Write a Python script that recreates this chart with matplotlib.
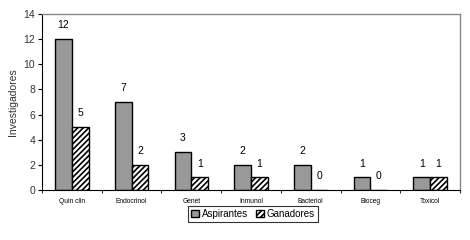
import numpy as np
import matplotlib.pyplot as plt

categorias = ['Quin clin', 'Endocrinol', 'Genet', 'Inmunol', 'Bacteriol', 'Bioceg', 'Toxicol']
aspirantes = [12, 7, 3, 2, 2, 1, 1]
ganadores = [5, 2, 1, 1, 0, 0, 1]

plt.rcParams['font.family'] = ['Liberation Sans', 'DejaVu Sans']
plt.rcParams['hatch.linewidth'] = 1.2

fig = plt.figure(figsize=(4.7, 2.4), dpi=100)
ax = fig.add_axes([42 / 470, 50 / 240, 418 / 470, 176 / 240])

x = np.arange(len(categorias))
w = 0.28
b1 = ax.bar(x - w / 2, aspirantes, w, color='#999999', edgecolor='black', linewidth=1.0, label='Aspirantes')
b2 = ax.bar(x + w / 2, ganadores, w, color='white', edgecolor='black', hatch='//////', linewidth=1.0, label='Ganadores')

# etiquetas de valor
for rect, v in zip(b1, aspirantes):
    ax.text(rect.get_x() + rect.get_width() / 2, v + 0.7, str(v), ha='center', va='bottom', fontsize=7.5)
for rect, v in zip(b2, ganadores):
    ax.text(rect.get_x() + rect.get_width() / 2, v + 0.7, str(v), ha='center', va='bottom', fontsize=7.5)

ax.set_xlim(-0.5, len(categorias) - 0.5)
ax.set_ylim(0, 14)
ax.set_yticks(range(0, 15, 2))
ax.set_xticks(x)
ax.set_xticklabels(categorias, fontsize=4.8)
ax.set_xticks(np.arange(-0.5, len(categorias)), minor=True)
ax.tick_params(axis='x', which='major', length=0, pad=6)
ax.tick_params(axis='x', which='minor', length=2, direction='out')
ax.tick_params(axis='y', labelsize=7.5, length=3, width=0.8, pad=2, labelcolor='#333333')
ax.set_ylabel('Investigadores', fontsize=7.5, labelpad=4, color='#333333')

for s in ['top', 'right']:
    ax.spines[s].set_color('#888888')
    ax.spines[s].set_linewidth(1.0)
for s in ['left', 'bottom']:
    ax.spines[s].set_color('black')
    ax.spines[s].set_linewidth(0.8)

leg = fig.legend(loc='center', bbox_to_anchor=(253 / 470, 26 / 240), ncol=2, fontsize=7,
                 frameon=True, fancybox=False, edgecolor='black', handlelength=0.8, handleheight=0.8,
                 handletextpad=0.3, columnspacing=0.8, borderpad=0.3)
leg.get_frame().set_linewidth(0.8)

fig.savefig('out.png', dpi=100)
